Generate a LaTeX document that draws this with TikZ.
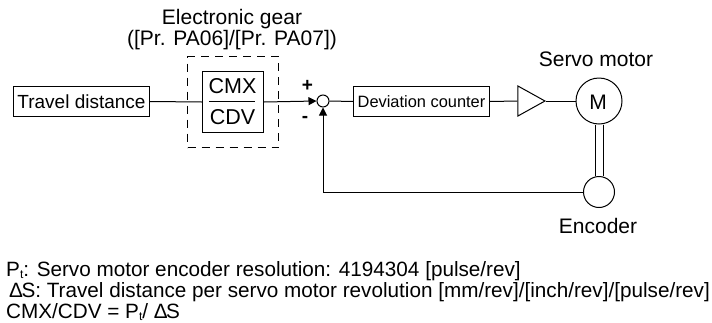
\documentclass[tikz,border=0pt]{standalone}
\usepackage{fontspec}
\setmainfont{Liberation Sans}
\usetikzlibrary{arrows.meta,shapes.geometric,calc}
\newcommand{\fsz}[1]{\fontsize{#1}{#1}\selectfont}
\tikzset{
  box/.style={draw,line width=1pt,inner sep=0pt,anchor=north west},
  line/.style={line width=1pt},
  lab/.style={inner sep=0pt,font=\fsz{21}},
  note/.style={inner sep=0pt,anchor=base west,font=\fsz{20.7}},
  circ/.style={draw,circle,line width=1pt,inner sep=0pt,fill=white},
  tip/.style={-{Triangle[length=8pt,width=8pt]}}
}
\begin{document}
\begin{tikzpicture}[x=1pt,y=-1pt]
\useasboundingbox (0,0) rectangle (712,322);
\node[box,minimum width=136pt,minimum height=30pt,font=\fsz{19}] (td) at (13,86) {Travel distance};
\node[box,minimum width=61pt,minimum height=61pt] (gear) at (202,71) {};
\node[box,dashed,dash pattern=on 8pt off 6pt,minimum width=91pt,minimum height=91pt] (dash) at (187,56) {};
\node[lab,font=\fsz{21.5}] (cmx) at (232.5,86.5) {CMX};
\node[lab,font=\fsz{21.5}] (cdv) at (232.5,117) {CDV};
\coordinate (fl) at (209,101);
\coordinate (fr) at (255,101);
\draw[line] (fl) -- (fr);
\node[lab,anchor=base] (title1) at (232,24) {Electronic gear};
\node[lab,anchor=base] (title2) at (232,45) {([Pr. PA06]/[Pr. PA07])};
\node[circ,minimum size=12pt] (sum) at (323,101) {};
\node[inner sep=0pt,font=\bfseries\fsz{19}] (plus) at (307.5,86) {+};
\node[inner sep=0pt,font=\bfseries\fsz{19}] (minus) at (305,119) {-};
\node[box,minimum width=136pt,minimum height=30pt,font=\fsz{16.4}] (dc) at (353,86) {Deviation counter};
\node[draw,line width=1pt,isosceles triangle,isosceles triangle apex angle=58,inner sep=0pt,minimum height=27pt,minimum width=30pt,anchor=apex] (amp) at (546,101) {};
\node[circ,minimum size=46pt] (m) at (599,101) {};
\node[lab] (mt) at (598,102) {M};
\node[lab,anchor=base] (sm) at (596,66) {Servo motor};
\node[circ,minimum size=31pt] (enc) at (599,192) {};
\node[lab,anchor=base] (el) at (598,233) {Encoder};
\draw[line] (td.east) -- (gear.west);
\draw[line,tip] (gear.east) -- (sum.west);
\draw[line] (sum.east) -- (dc.west);
\draw[line] (dc.east) -- (amp.lower side);
\draw[line] (amp.apex) -- (m.west);
\draw[line,tip] (enc.west) -| (sum.south);
\draw[line] ($(m.south)+(-4,0)$) -- ($(enc.north)+(-4,0)$);
\draw[line] ($(m.south)+(4,0)$) -- ($(enc.north)+(4,0)$);
\node[note] (n1) at (6,276) {P\raisebox{-2.5pt}{\fsz{12}t}: Servo motor encoder resolution: 4194304 [pulse/rev]};
\node[note] (n2) at (9,297) {Δ\kern-1.5pt S: Travel distance per servo motor revolution [mm/rev]/[inch/rev]/[pulse/rev]};
\node[note] (n3) at (6,318) {CMX/CDV = P\raisebox{-2.5pt}{\fsz{12}t}/ Δ\kern-1.5pt S};
\end{tikzpicture}
\end{document}
